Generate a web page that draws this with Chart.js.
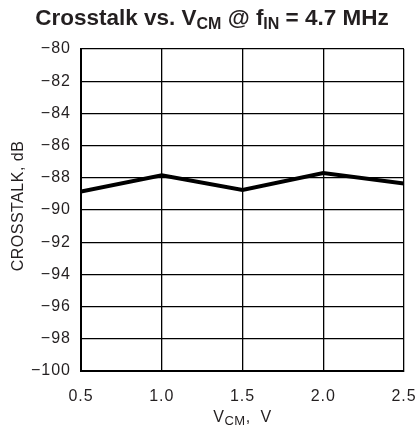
<!DOCTYPE html>
<html>
<head>
<meta charset="utf-8">
<script src="https://cdn.jsdelivr.net/npm/chart.js@4/dist/chart.umd.min.js"></script>
<style>
  html, body { margin: 0; padding: 0; background: #fff; }
  #wrap { width: 417px; height: 445px; }
</style>
</head>
<body>
<div id="wrap"><canvas id="chart" width="417" height="445"></canvas></div>
<script>
// data
const vcm = [0.5, 1.0, 1.5, 2.0, 2.5];
const crosstalk = [-88.85, -87.85, -88.75, -87.7, -88.35];
const xTicks = [0.5, 1.0, 1.5, 2.0, 2.5];
const yTicks = [-100, -98, -96, -94, -92, -90, -88, -86, -84, -82, -80];

const INK = "#231f20";
const TICK_FONT = { family: "Liberation Sans, Arial, sans-serif", size: 16 };

// draws one run of text with subscripts, returns the x after it
function drawRuns(ctx, runs, x, y) {
    for (const r of runs) {
        ctx.font = r.font;
        ctx.fillText(r.text, x, y + (r.dy || 0));
        x += ctx.measureText(r.text).width;
    }
    return x;
}
function runsWidth(ctx, runs) {
    let w = 0;
    for (const r of runs) {
        ctx.font = r.font;
        w += ctx.measureText(r.text).width;
    }
    return w;
}

const labelsPlugin = {
    id: "labels",
    beforeDraw(chart) {
        // the original tick font is set a little looser
        chart.ctx.letterSpacing = "1px";
    },
    afterDraw(chart) {
        const ctx = chart.ctx;
        const area = chart.chartArea;
        ctx.save();
        ctx.letterSpacing = "0px";
        ctx.fillStyle = INK;
        ctx.textBaseline = "alphabetic";
        ctx.textAlign = "left";

        // title
        const big = "bold 22.5px Liberation Sans, Arial, sans-serif";
        const small = "bold 16px Liberation Sans, Arial, sans-serif";
        const title = [
            { text: "Crosstalk vs. V", font: big },
            { text: "CM", font: small, dy: 4 },
            { text: " @ f", font: big },
            { text: "IN", font: small, dy: 4 },
            { text: " = 4.7 MHz", font: big }
        ];
        const tw = runsWidth(ctx, title);
        drawRuns(ctx, title, 212 - tw / 2, 25);

        // x axis title
        ctx.letterSpacing = "0.5px";
        const xt = [
            { text: "V", font: "16px Liberation Sans, Arial, sans-serif" },
            { text: "CM", font: "13px Liberation Sans, Arial, sans-serif", dy: 3 },
            { text: ",  V", font: "16px Liberation Sans, Arial, sans-serif" }
        ];
        const xw = runsWidth(ctx, xt);
        drawRuns(ctx, xt, (area.left + area.right) / 2 - xw / 2, 422);

        // y axis title
        ctx.translate(23, (area.top + area.bottom) / 2 - 4);
        ctx.rotate(-Math.PI / 2);
        ctx.textAlign = "center";
        ctx.font = "16px Liberation Sans Narrow, Liberation Sans, Arial, sans-serif";
        ctx.fillText("CROSSTALK, dB", 0, 0);
        ctx.restore();
    }
};

new Chart(document.getElementById("chart"), {
    type: "line",
    data: {
        datasets: [{
            data: vcm.map((v, i) => ({ x: v, y: crosstalk[i] })),
            borderColor: "#000",
            borderWidth: 4,
            pointRadius: 0,
            tension: 0,
            fill: false
        }]
    },
    options: {
        responsive: false,
        animation: false,
        devicePixelRatio: 1,
        layout: { padding: { top: 49, right: 13, left: 0, bottom: 0 } },
        plugins: {
            legend: { display: false },
            tooltip: { enabled: false }
        },
        scales: {
            x: {
                type: "linear",
                min: 0.5,
                max: 2.5,
                afterFit: s => {
                    s.height = 74;
                    s.paddingLeft = 0;
                    s.paddingRight = 0;
                },
                afterBuildTicks: s => { s.ticks = xTicks.map(v => ({ value: v })); },
                ticks: {
                    color: INK,
                    font: TICK_FONT,
                    padding: 16,
                    maxRotation: 0,
                    callback: v => v.toFixed(1)
                },
                grid: { color: "#000", lineWidth: 1.3, drawTicks: false },
                border: { color: "#000", width: 2 }
            },
            y: {
                min: -100,
                max: -80,
                afterFit: s => { s.width = 81; },
                afterBuildTicks: s => { s.ticks = yTicks.map(v => ({ value: v })); },
                ticks: {
                    color: INK,
                    font: TICK_FONT,
                    padding: 10,
                    callback: v => String(v).replace("-", "\u2212")
                },
                grid: { color: "#000", lineWidth: 1.3, drawTicks: false },
                border: { color: "#000", width: 2 }
            }
        }
    },
    plugins: [labelsPlugin]
});
</script>
</body>
</html>
